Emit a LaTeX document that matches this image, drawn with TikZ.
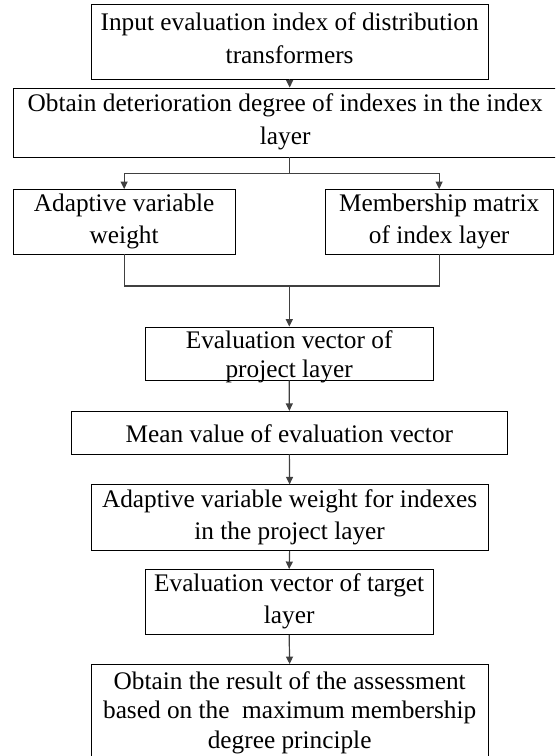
\documentclass[tikz,border=0pt]{standalone}
\usepackage{fontspec}
\setmainfont{Liberation Serif}
\usetikzlibrary{arrows.meta}
\newcommand{\topstrut}{\rule{0pt}{25.5pt}}
\newcommand{\botstrut}{\rule[-6.5pt]{0pt}{6.5pt}}
\begin{document}
\begin{tikzpicture}[x=1pt,y=-1pt,
  txt/.style={inner sep=0pt, align=center,
    font=\fontsize{25.3}{32.5}\selectfont,
    execute at begin node=\topstrut, execute at end node=\botstrut},
  box/.style={txt, draw=black, line width=0.9pt, rectangle},
  frame/.style={draw=black, line width=0.9pt, rectangle, inner sep=0pt},
  conn/.style={draw=black!75, line width=1.2pt},
  arr/.style={conn, -{Triangle[length=7.5pt,width=7pt]}}]
\useasboundingbox (0,0) rectangle (555,756);
\clip (0,0) rectangle (555,756);

\node[box, minimum width=397.3pt, minimum height=75pt] (b1) at (289.65,41.5)
  {Input evaluation index of distribution\\transformers};
\node[box, minimum width=543.7pt, minimum height=69pt] (b2) at (285.15,122.5)
  {Obtain deterioration degree of indexes in the index\\layer};
\node[box, minimum width=221.7pt, minimum height=64.5pt] (b3) at (124.15,221.75)
  {Adaptive variable\\weight};
\node[box, minimum width=228.3pt, minimum height=64.5pt] (b4) at (439.15,221.75)
  {Membership matrix\\of index layer};
\node[frame, minimum width=288.3pt, minimum height=53pt] (b5) at (289.15,353.5) {};
\node[txt, font=\fontsize{25.3}{29}\selectfont] (t5) at (289.15,357.5)
  {Evaluation vector of\\project layer};
\node[box, minimum width=436.7pt, minimum height=42.6pt] (b6) at (289.35,432.7)
  {Mean value of evaluation vector};
\node[box, minimum width=397.3pt, minimum height=65.6pt] (b7) at (289.65,517.6)
  {Adaptive variable weight for indexes\\in the project layer};
\node[box, minimum width=288.3pt, minimum height=64.9pt] (b8) at (289.15,601.95)
  {Evaluation vector of target\\layer};
\node[frame, minimum width=397.3pt, minimum height=97.5pt] (b9) at (289.65,713.25) {};
\node[txt, font=\fontsize{25.3}{29.5}\selectfont] (t9) at (289.65,713)
  {Obtain the result of the assessment\\based on the~ maximum membership\\degree principle};

\coordinate (split) at (289.3,173.5);
\coordinate (join) at (289.3,286);

\draw[arr] (b1.south) -- (b1.south |- b2.north);
\draw[conn] (split |- b2.south) -- (split);
\draw[arr] (split) -| (b3.north);
\draw[arr] (split) -| (b4.north);
\draw[conn] (b3.south) |- (join) -| (b4.south);
\draw[arr] (join) -- (join |- b5.north);
\draw[arr] (b5.south) -- (b6.north);
\draw[arr] (b6.south) -- (b7.north);
\draw[arr] (b7.south) -- (b8.north);
\draw[arr] (b8.south) -- (b9.north);
\end{tikzpicture}
\end{document}
